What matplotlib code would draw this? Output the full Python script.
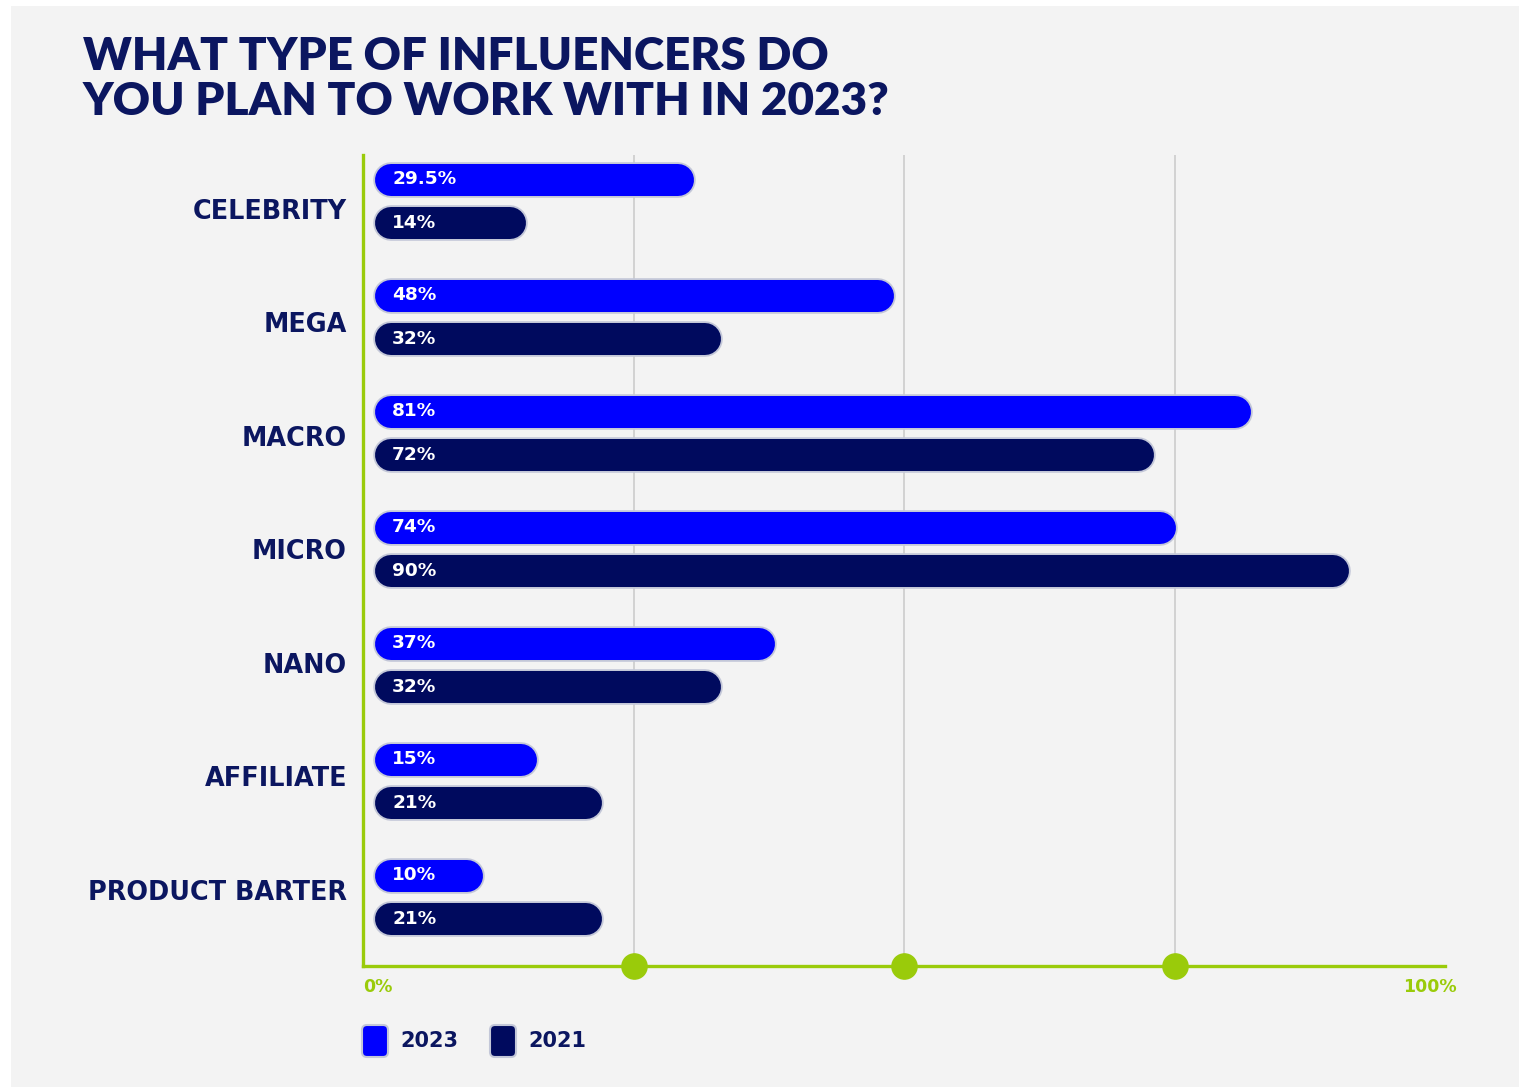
import matplotlib
matplotlib.use("Agg")
import matplotlib.pyplot as plt
import matplotlib.patheffects as pe
from matplotlib.patches import Rectangle, FancyBboxPatch
from matplotlib.transforms import IdentityTransform

plt.rcParams['font.family'] = ['Lato', 'DejaVu Sans']

# ---- data ----
categories = ["CELEBRITY", "MEGA", "MACRO", "MICRO", "NANO", "AFFILIATE", "PRODUCT BARTER"]
values_2023 = [29.5, 48, 81, 74, 37, 15, 10]
values_2021 = [14, 32, 72, 90, 32, 21, 21]
labels_2023 = ["29.5%", "48%", "81%", "74%", "37%", "15%", "10%"]
labels_2021 = ["14%", "32%", "72%", "90%", "32%", "21%", "21%"]
series_names = ["2023", "2021"]
grid_ticks = [25, 50, 75]
tick_labels = ["0%", "100%"]
title = "WHAT TYPE OF INFLUENCERS DO\nYOU PLAN TO WORK WITH IN 2023?"

# ---- style ----
W, H, DPI = 1519, 1087, 100
BG = "#f3f3f3"
NAVY_TXT = "#0b1660"
BLUE = "#0000ff"
NAVY = "#000a5e"
GREEN = "#9acb0a"
GRID = "#c9c9c9"
EDGE = "#c3c7d8"
WIDE_BOLD = ["DejaVu Sans"]

fig = plt.figure(figsize=(W / DPI, H / DPI), dpi=DPI)
fig.patch.set_facecolor("white")
fig.add_artist(Rectangle((11 / W, 0), 1 - 11 / W, 1 - 6 / H,
                         transform=fig.transFigure, facecolor=BG,
                         edgecolor="none", zorder=0))

# plot area in pixels
x0_px, x1_px = 363, 1445
top_px, bot_px = 155, 966
ax = fig.add_axes([x0_px / W, 1 - bot_px / H, (x1_px - x0_px) / W, (bot_px - top_px) / H])
ax.set_facecolor("none")
ax.set_xlim(0, 100)
px_per_unit_y = 116.0
first_center_px = 201.0
ax.set_ylim((bot_px - first_center_px) / px_per_unit_y, (top_px - first_center_px) / px_per_unit_y)

for s in ("top", "right"):
    ax.spines[s].set_visible(False)
for s in ("left", "bottom"):
    ax.spines[s].set_color(GREEN)
    ax.spines[s].set_linewidth(2.4)
ax.set_xticks([])
ax.set_yticks([])

# vertical gridlines with dots on the baseline
for g in grid_ticks:
    ax.axvline(g, color=GRID, lw=1.1, zorder=1)
ax.scatter(grid_ticks, [ax.get_ylim()[0]] * len(grid_ticks), s=330, color=GREEN,
           zorder=5, clip_on=False)

# pill-shaped bars
px_per_unit_x = (x1_px - x0_px) / 100.0
bar_h_px = 32
cap_r = bar_h_px / 2 / px_per_unit_x
bar_start = 12 / px_per_unit_x
offset = 21.5 / px_per_unit_y
lw_pt = bar_h_px * 72 / DPI


def draw_bar(y, v, color, label):
    left = bar_start + cap_r
    right = bar_start + v - cap_r
    ax.plot([left, right], [y, y], color=color, lw=lw_pt, solid_capstyle="round",
            zorder=3, path_effects=[pe.Stroke(linewidth=lw_pt + 2.6, foreground=EDGE),
                                    pe.Normal()])
    ax.text(bar_start + 17 / px_per_unit_x, y, label, color="white", fontsize=13.3,
            family=WIDE_BOLD, fontweight="bold", ha="left", va="center", zorder=4)


for i, cat in enumerate(categories):
    draw_bar(i - offset, values_2023[i], BLUE, labels_2023[i])
    draw_bar(i + offset, values_2021[i], NAVY, labels_2021[i])
    label_y = 0.095 + 0.978 * i
    ax.text(-16 / px_per_unit_x, label_y, cat, color=NAVY_TXT, fontsize=18.4,
            family=WIDE_BOLD, fontweight="bold", ha="right", va="center",
            clip_on=False)

# axis end labels
ybot = ax.get_ylim()[0]
ax.text(0, ybot + 21 / px_per_unit_y, tick_labels[0], color=GREEN, fontsize=12.5,
        family=WIDE_BOLD, fontweight="bold", ha="left", va="center", clip_on=False)
ax.text(101.1, ybot + 21 / px_per_unit_y, tick_labels[1], color=GREEN, fontsize=12.5,
        family=WIDE_BOLD, fontweight="bold", ha="right", va="center", clip_on=False)

# title
fig.text(83 / W, 1 - 36 / H, title, color=NAVY_TXT, fontsize=33, fontweight="heavy",
         ha="left", va="top", linespacing=1.13)

# legend
for (lx, tx), name, col in zip([(362, 400), (490, 528)], series_names, [BLUE, NAVY]):
    fig.add_artist(FancyBboxPatch((lx, H - 1057), 26, 32,
                                  boxstyle="round,pad=0,rounding_size=5",
                                  transform=IdentityTransform(), facecolor=col,
                                  edgecolor=EDGE, linewidth=1.5, zorder=3))
    fig.text(tx / W, 1 - 1041 / H, name, color=NAVY_TXT, fontsize=15,
             family=WIDE_BOLD, fontweight="bold", ha="left", va="center")

fig.savefig("out.png", dpi=DPI, facecolor=fig.get_facecolor())
